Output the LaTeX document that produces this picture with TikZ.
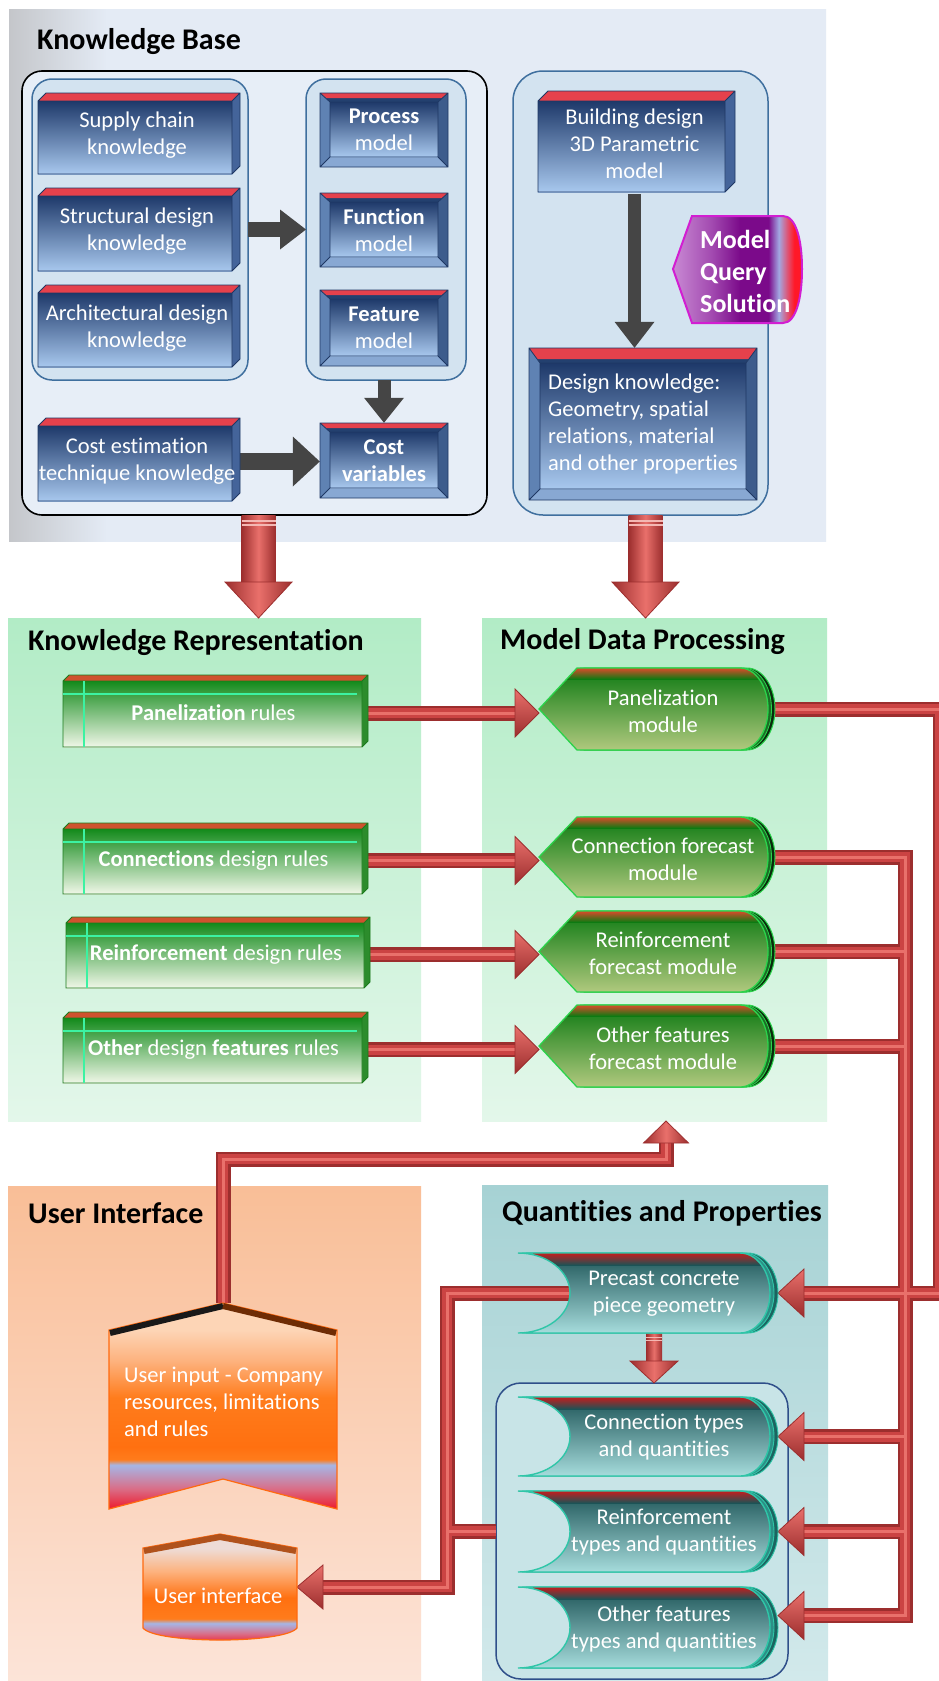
\documentclass[tikz,border=0pt]{standalone}
\usepackage{fontspec}
\setmainfont{Carlito}[Ligatures=NoCommon]
\usetikzlibrary{calc}
\pgfdeclarelayer{bg}
\pgfdeclarelayer{conn}
\pgfsetlayers{bg,conn,main}

\definecolor{kbGray}{HTML}{C4C6CA}
\definecolor{kbBlue}{HTML}{E4EBF5}
\definecolor{bbFill}{HTML}{E7EEF7}
\definecolor{grpFill}{HTML}{D3E3F0}
\definecolor{grpLine}{HTML}{3F6F9E}
\definecolor{grTop}{HTML}{B2ECC6}
\definecolor{grBot}{HTML}{E3F7EA}
\definecolor{uiTop}{HTML}{F9BE97}
\definecolor{uiBot}{HTML}{FCE4D8}
\definecolor{qpTop}{HTML}{A6D2D4}
\definecolor{qpBot}{HTML}{D2E9EB}
\definecolor{iqFill}{HTML}{C8E4E7}
\definecolor{iqLine}{HTML}{2F4F8A}
\definecolor{bFrontT}{HTML}{1E396A}
\definecolor{bFrontB}{HTML}{A8C8EE}
\definecolor{bSide}{HTML}{44649A}
\definecolor{bTop}{HTML}{E5414C}
\definecolor{bLine}{HTML}{1F3864}
\definecolor{bvTopC}{HTML}{23406F}
\definecolor{bvLeftC}{HTML}{5F82B3}
\definecolor{bvRightC}{HTML}{3D5C8C}
\definecolor{bvBotC}{HTML}{88A8D3}
\definecolor{gFrontT}{HTML}{138A1B}
\definecolor{gFrontB}{HTML}{F0F7E8}
\definecolor{gSide}{HTML}{2C8C2C}
\definecolor{gTop}{HTML}{CF522E}
\definecolor{gLine}{HTML}{1C7A1C}
\definecolor{gMint}{HTML}{3CF2A2}
\definecolor{modTop}{HTML}{0D7A12}
\definecolor{modBot}{HTML}{B0C97E}
\definecolor{modRed}{HTML}{DC4A2A}
\definecolor{modLine}{HTML}{2BD34B}
\definecolor{modShadow}{HTML}{092B0B}
\definecolor{modShadow2}{HTML}{1B6E25}
\definecolor{stTop}{HTML}{1C5356}
\definecolor{stBot}{HTML}{A6DCDC}
\definecolor{stRed}{HTML}{C51D1D}
\definecolor{stLine}{HTML}{2FC6A8}
\definecolor{stShadow}{HTML}{1B6460}
\definecolor{stShadow2}{HTML}{2C8F86}
\definecolor{redD}{HTML}{9C2E2E}
\definecolor{redM}{HTML}{CB4343}
\definecolor{redL}{HTML}{E9706B}
\definecolor{redS}{HTML}{F4B8B4}
\definecolor{gArrow}{HTML}{454545}
\definecolor{mqL}{HTML}{C98AD4}
\definecolor{mqM}{HTML}{A24AB0}
\definecolor{mqD}{HTML}{7B0A8A}
\definecolor{mqB}{HTML}{A2A8E2}
\definecolor{mqP}{HTML}{E05070}
\definecolor{mqR}{HTML}{FF1828}
\definecolor{mqLine}{HTML}{D21ED2}
\definecolor{oPeach}{HTML}{FDD5B6}
\definecolor{oLight}{HTML}{FDB27E}
\definecolor{oMid}{HTML}{FF7C1C}
\definecolor{oDeep}{HTML}{FF7010}
\definecolor{oBlue}{HTML}{A6B6E6}
\definecolor{oPink}{HTML}{D96E88}
\definecolor{oRed}{HTML}{EE1A2C}
\definecolor{oLine}{HTML}{FF6A10}
\definecolor{oBrown}{HTML}{6E2C05}
\definecolor{oBrown2}{HTML}{B0521C}
\definecolor{ufTop}{HTML}{EEDCD6}

\pgfdeclarehorizontalshading{kbshade}{100bp}{color(0bp)=(kbGray); color(25bp)=(kbGray); color(31bp)=(kbBlue); color(100bp)=(kbBlue)}
\pgfdeclarehorizontalshading{mqsshade}{100bp}{color(0bp)=(mqL); color(25bp)=(mqL); color(40bp)=(mqM); color(51bp)=(mqD); color(62bp)=(mqD); color(66bp)=(mqB); color(69.5bp)=(mqP); color(72bp)=(mqR); color(100bp)=(mqR)}
\pgfdeclareverticalshading{uinshade}{100bp}{color(0bp)=(oRed); color(25bp)=(oRed); color(30bp)=(oPink); color(35.7bp)=(oBlue); color(37bp)=(oMid); color(40bp)=(oDeep); color(52bp)=(oMid); color(61bp)=(oLight); color(68.5bp)=(oPeach); color(100bp)=(oPeach)}
\pgfdeclareverticalshading{ufshade}{100bp}{color(0bp)=(oRed); color(25bp)=(oRed); color(29.7bp)=(oPink); color(34.4bp)=(oBlue); color(36.5bp)=(oMid); color(46bp)=(oDeep); color(58bp)=(oLight); color(68.4bp)=(ufTop); color(100bp)=(ufTop)}

% rectangle node from corners
\newcommand\mkrect[6]{\node[#6, minimum width={(#4-#2)*1pt}, minimum height={(#5-#3)*1pt}] (#1) at ({(#2+#4)/2},{(#3+#5)/2}) {};}

% 3D cube box: [style]{name}{x1}{y1}{x2}{y2}{depth}{text}
\newcommand\cubebox[8][blue]{%
  \fill[#1 top] ({#3},{#4+#7}) -- ({#3+#7},{#4}) -- ({#5},{#4}) -- ({#5-#7},{#4+#7}) -- cycle;
  \fill[#1 side] ({#5-#7},{#4+#7}) -- ({#5},{#4}) -- ({#5},{#6-#7}) -- ({#5-#7},{#6}) -- cycle;
  \shade[#1 front] ({#3},{#4+#7}) rectangle ({#5-#7},{#6});
  \draw[#1 line] ({#3},{#4+#7}) -- ({#3+#7},{#4}) -- ({#5},{#4}) -- ({#5},{#6-#7}) -- ({#5-#7},{#6}) -- ({#3},{#6}) -- cycle
     ({#3},{#4+#7}) -- ({#5-#7},{#4+#7}) -- ({#5},{#4}) ({#5-#7},{#4+#7}) -- ({#5-#7},{#6});
  \node[boxtext, minimum width={(#5-#3)*1pt}, minimum height={(#6-#4)*1pt}] (#2) at ({(#3+#5)/2-2},{(#4+#6)/2+2}) {#8};
}

% bevel box: {name}{x1}{y1}{x2}{y2}{inset}{topinset}{redstrip}{text}
\newcommand\bevelbox[9]{%
  \fill[bvTopC] ({#2},{#3}) -- ({#4},{#3}) -- ({#4-#6},{#3+#7}) -- ({#2+#6},{#3+#7}) -- cycle;
  \fill[bTop] ({#2},{#3}) -- ({#4},{#3}) -- ({#4-#8*#6/#7},{#3+#8}) -- ({#2+#8*#6/#7},{#3+#8}) -- cycle;
  \fill[bvLeftC] ({#2},{#3}) -- ({#2+#6},{#3+#7}) -- ({#2+#6},{#5-#6}) -- ({#2},{#5}) -- cycle;
  \fill[bvRightC] ({#4},{#3}) -- ({#4-#6},{#3+#7}) -- ({#4-#6},{#5-#6}) -- ({#4},{#5}) -- cycle;
  \fill[bvBotC] ({#2},{#5}) -- ({#2+#6},{#5-#6}) -- ({#4-#6},{#5-#6}) -- ({#4},{#5}) -- cycle;
  \shade[top color=bFrontT, bottom color=bFrontB] ({#2+#6},{#3+#7}) rectangle ({#4-#6},{#5-#6});
  \draw[bLine, line width=0.8pt] ({#2},{#3}) rectangle ({#4},{#5}) ({#2+#6},{#3+#7}) rectangle ({#4-#6},{#5-#6})
     ({#2},{#3}) -- ({#2+#6},{#3+#7}) ({#4},{#3}) -- ({#4-#6},{#3+#7}) ({#2},{#5}) -- ({#2+#6},{#5-#6}) ({#4},{#5}) -- ({#4-#6},{#5-#6});
  \node[boxtext, minimum width={(#4-#2)*1pt}, minimum height={(#5-#3)*1pt}] (#1) at ({(#2+#4)/2},{(#3+#5)/2}) {#9};
}

\newcommand\rulelines[4]{\draw[gMint, line width=1.3pt] ({#1+21},{#2+6}) -- ({#1+21},{#4}) ({#1},{#2+19}) -- ({#3-11},{#2+19});}

% display shape path: x1 y1 x2 y2
\newcommand\modpath[4]{({#1},{(#2+#4)/2}) -- ({#1+38},{#2}) -- ({#3-28},{#2}) .. controls ({#3-12.5},{#2}) and ({#3},{(#2+#4)/2-0.276*(#4-#2)}) .. ({#3},{(#2+#4)/2}) .. controls ({#3},{(#2+#4)/2+0.276*(#4-#2)}) and ({#3-12.5},{#4}) .. ({#3-28},{#4}) -- ({#1+38},{#4}) -- cycle}

\newcommand\modbox[6]{%
  \begin{scope}[xshift=7pt]\path[fill=modShadow, draw=modLine, line width=1pt] \modpath{#2}{#3}{#4-7}{#5};\end{scope}
  \begin{scope}[xshift=3.5pt]\path[fill=modShadow2, draw=modLine, line width=0.8pt] \modpath{#2}{#3}{#4-7}{#5};\end{scope}
  \path[top color=modTop, bottom color=modBot] \modpath{#2}{#3}{#4-7}{#5};
  \begin{scope}\clip \modpath{#2}{#3}{#4-7}{#5};
    \path[top color=modRed, bottom color=modTop] ({#2},{#3}) rectangle ({#4},{#3+11});
  \end{scope}
  \path[draw=modLine, line width=1.3pt] \modpath{#2}{#3}{#4-7}{#5};
  \node[panel, minimum width={(#4-#2)*1pt}, minimum height={(#5-#3)*1pt}] (#1) at ({(#2+#4)/2},{(#3+#5)/2}) {};
  \node[boxtext] (#1t) at ({(#2+#4)/2+6},{(#3+#5)/2+2}) {#6};
}

% stored-data shape path: x1 y1 x2 y2
\newcommand\stpath[4]{({#1},{#2}) -- ({#3-30},{#2}) .. controls ({#3-13.4},{#2}) and ({#3},{(#2+#4)/2-0.276*(#4-#2)}) .. ({#3},{(#2+#4)/2}) .. controls ({#3},{(#2+#4)/2+0.276*(#4-#2)}) and ({#3-13.4},{#4}) .. ({#3-30},{#4}) -- ({#1},{#4}) .. controls ({#1+28.7},{#4}) and ({#1+52},{(#2+#4)/2+0.276*(#4-#2)}) .. ({#1+52},{(#2+#4)/2}) .. controls ({#1+52},{(#2+#4)/2-0.276*(#4-#2)}) and ({#1+28.7},{#2}) .. cycle}

\newcommand\stbox[6]{%
  \begin{scope}[xshift=8pt]\path[fill=stShadow, draw=stLine, line width=0.9pt] \stpath{#2}{#3}{#4-8}{#5};\end{scope}
  \begin{scope}[xshift=4pt]\path[fill=stShadow2, draw=stLine, line width=0.9pt] \stpath{#2}{#3}{#4-8}{#5};\end{scope}
  \path[top color=stTop, bottom color=stBot] \stpath{#2}{#3}{#4-8}{#5};
  \begin{scope}\clip \stpath{#2}{#3}{#4-8}{#5};
    \path[top color=stRed, bottom color=stTop] ({#2},{#3}) rectangle ({#4},{#3+12});
  \end{scope}
  \path[draw=stLine, line width=1.4pt] \stpath{#2}{#3}{#4-8}{#5};
  \node[panel, minimum width={(#4-#2)*1pt}, minimum height={(#5-#3)*1pt}] (#1) at ({(#2+#4)/2},{(#3+#5)/2}) {};
  \node[boxtext] (#1t) at ({(#2+#4)/2+16},{(#3+#5)/2+1}) {#6};
}

\begin{document}
\begin{tikzpicture}[x=1pt,y=-1pt,
  title/.style={font=\fontsize{30}{34}\selectfont\bfseries, anchor=west, inner sep=0pt},
  boxtext/.style={font=\fontsize{22.5}{27}\selectfont, text=white, align=center, inner sep=0pt},
  panel/.style={inner sep=0pt, outer sep=0pt, rectangle},
  grp/.style={panel, rounded corners=20pt, draw=grpLine, line width=1.5pt, fill=grpFill},
  blue top/.style={fill=bTop},
  blue side/.style={fill=bSide},
  blue front/.style={top color=bFrontT, bottom color=bFrontB},
  blue line/.style={draw=bLine, line width=0.8pt},
  green top/.style={fill=gTop},
  green side/.style={fill=gSide},
  green front/.style={top color=gFrontT, bottom color=gFrontB},
  green line/.style={draw=gLine, line width=0.9pt},
  rd/.style={draw=redD, line width=15pt},
  rm/.style={draw=redM, line width=10pt},
  rh/.style={draw=redL, line width=3pt},
  rhead/.style={top color=redL, bottom color=redD, draw=redD, line width=0.8pt},
  rheadv/.style={left color=redD, right color=redD, middle color=redL, draw=redD, line width=0.8pt},
  bigshaft/.style={left color=redD, right color=redD, middle color=redL},
  gshaft/.style={draw=gArrow, line width=15pt},
  ghead/.style={fill=gArrow}]
\useasboundingbox (0,0) rectangle (938,1681);

\begin{pgfonlayer}{bg}
\fill[white] (0,0) rectangle (938,1681);
\mkrect{kb}{9}{9}{826}{541}{panel, shade, shading=kbshade}
\node[title] (kbt) at (37,42) {Knowledge Base};
\mkrect{blackbox}{22}{71}{487}{515}{panel, rounded corners=20pt, draw=black, line width=1.6pt, fill=bbFill}
\mkrect{lgroup}{32}{79}{248}{380}{grp}
\mkrect{rgroup}{306}{79}{466}{380}{grp}
\mkrect{bgroup}{513}{71}{768}{515}{grp, rounded corners=30pt}
\mkrect{kr}{8}{618}{421}{1121}{panel, top color=grTop, bottom color=grBot}
\node[title] (krt) at (28,643) {Knowledge Representation};
\mkrect{mdp}{482}{618}{827}{1121}{panel, top color=grTop, bottom color=grBot}
\node[title] (mdpt) at (500,642) {Model Data Processing};
\mkrect{ui}{8}{1186}{421}{1681}{panel, top color=uiTop, bottom color=uiBot}
\node[title] (uit) at (28,1213) {User Interface};
\mkrect{qp}{482}{1185}{828}{1681}{panel, top color=qpTop, bottom color=qpBot}
\node[title] (qpt) at (502,1213) {Quantities and Properties};
\mkrect{innerq}{496}{1383}{788}{1679}{panel, rounded corners=25pt, draw=iqLine, line width=1.5pt, fill=iqFill}
\end{pgfonlayer}

% ---------- Knowledge base boxes
\cubebox{supply}{38}{93}{240}{174}{8}{Supply chain\\knowledge}
\cubebox{struct}{38}{188}{240}{271}{8}{Structural design\\knowledge}
\cubebox{arch}{38}{285}{240}{367}{8}{Architectural design\\knowledge}
\cubebox{costest}{38}{418}{240}{501}{8}{Cost estimation\\technique knowledge}
\bevelbox{process}{320}{93}{448}{167}{10}{9}{5}{\textbf{Process}\\model}
\bevelbox{function}{320}{193}{448}{267}{10}{9}{5}{\textbf{Function}\\model}
\bevelbox{feature}{320}{290}{448}{366}{10}{9}{5}{\textbf{Feature}\\model}
\bevelbox{costvar}{320}{423}{448}{498}{10}{9}{5}{\textbf{Cost}\\\textbf{variables}}
\cubebox{building}{538}{91}{735}{192}{10}{Building design\\3D Parametric\\model}
\bevelbox{designk}{529}{348}{757}{500}{11}{15}{11}{}
\node[boxtext, align=left, anchor=west] (designkt) at (548,424) {Design knowledge:\\Geometry, spatial\\relations, material\\and other properties};

% Model query solution
\path[shade, shading=mqsshade, draw=mqLine, line width=2pt] (673,269) -- (692,216) -- (783,216) .. controls (796,216) and (802,240) .. (802,269) .. controls (802,298) and (796,323) .. (783,323) -- (692,323) -- cycle;
\node[panel, minimum width=129pt, minimum height=107pt] (mqs) at (737.5,269.5) {};
\node[font=\fontsize{26}{32}\selectfont\bfseries, text=white, align=left, anchor=west, inner sep=0pt] (mqst) at (700,271) {Model\\Query\\Solution};

% ---------- Knowledge representation
\cubebox[green]{prules}{63}{675}{368}{747}{6}{\textbf{Panelization} rules}
\rulelines{63}{675}{368}{747}
\cubebox[green]{crules}{63}{823}{368}{894}{6}{\textbf{Connections} design rules}
\rulelines{63}{823}{368}{894}
\cubebox[green]{rrules}{66}{917}{370}{988}{6}{\textbf{Reinforcement} design rules}
\rulelines{66}{917}{370}{988}
\cubebox[green]{orules}{63}{1012}{368}{1083}{6}{\textbf{Other} design \textbf{features} rules}
\rulelines{63}{1012}{368}{1083}

% ---------- Model data processing
\modbox{pmod}{539}{668}{775}{750}{Panelization\\module}
\modbox{cmod}{539}{817}{775}{897}{Connection forecast\\module}
\modbox{rmod}{539}{911}{775}{992}{Reinforcement\\forecast module}
\modbox{omod}{539}{1005}{775}{1087}{Other features\\forecast module}

% ---------- Quantities and properties
\stbox{precast}{518}{1253}{778}{1333}{Precast concrete\\piece geometry}
\stbox{ctypes}{518}{1397}{778}{1476}{Connection types\\and quantities}
\stbox{rtypes}{518}{1491}{778}{1572}{Reinforcement\\types and quantities}
\stbox{otypes}{518}{1587}{778}{1668}{Other features\\types and quantities}

% ---------- User interface
\path[shade, shading=uinshade, draw=oLine, line width=1.2pt] (223,1303) -- (337,1330) -- (337,1509) -- (223,1479) -- (109,1509) -- (109,1330) -- cycle;
\draw[line width=6pt, black!90] (110,1333) -- (223,1306);
\draw[line width=6pt, oBrown] (223,1306) -- (336,1333);
\node[panel, minimum width=228pt, minimum height=206pt] (uinput) at (223,1406) {};
\node[boxtext, align=left, anchor=west] (uinputt) at (124,1402) {User input - Company\\resources, limitations\\and rules};

\path[shade, shading=ufshade, draw=oLine, line width=1.2pt] (220,1534) -- (297,1548) -- (297,1628) .. controls (284,1644) and (156,1644) .. (143,1628) -- (143,1548) -- cycle;
\draw[line width=6pt, oBrown2] (144,1551) -- (220,1537) -- (296,1551);
\node[panel, minimum width=154pt, minimum height=106pt] (uiface) at (220,1587) {};
\node[boxtext] (uifacet) at (218,1596) {User interface};

% ---------- connectors
\begin{pgfonlayer}{conn}
\coordinate (xr1) at (940,0);
\coordinate (xr2) at (905,0);
\coordinate (xl) at (447,0);
\coordinate (yup) at (0,1159);
\coordinate (mdpin) at ($(mdp.south)+(11.5,0)$);
\coordinate (otin) at ($(otypes.east)+(0,-12)$);

% gray arrows
\draw[gshaft] (lgroup.east) -- ($(rgroup.west)+(-26,0)$);
\fill[ghead] (rgroup.west) -- ++(-26,-20) -- ++(0,40) -- cycle;
\draw[gshaft, line width=13pt] (costvar.north |- rgroup.south) -- ($(costvar.north)+(0,-25)$);
\fill[ghead] (costvar.north) -- ++(-20,-25) -- ++(40,0) -- cycle;
\draw[gshaft, line width=17pt] (costest.east) -- ($(costest.east -| costvar.west)+(-27,0)$);
\fill[ghead] (costest.east -| costvar.west) -- ++(-27,-25) -- ++(0,50) -- cycle;
\draw[gshaft, line width=13pt] (building.south) -- ($(building.south |- designk.north)+(0,-26)$);
\fill[ghead] (building.south |- designk.north) -- ++(-20,-26) -- ++(40,0) -- cycle;

% big red arrows
\coordinate (r1s) at ($(blackbox.south)+(4,0)$);
\coordinate (r1t) at (r1s |- kr.north);
\coordinate (r2s) at ($(bgroup.south)+(5,0)$);
\coordinate (r2t) at (r2s |- mdp.north);
\shade[bigshaft] ($(r1s)+(-17,0)$) rectangle ($(r1t)+(17,-36)$);
\path[rheadv] (r1t) -- ++(-33.5,-36) -- ++(67,0) -- cycle;
\draw[redS, line width=1.3pt] ($(r1s)+(-17,6)$) -- ++(34,0) ($(r1s)+(-17,10)$) -- ++(34,0);
\shade[bigshaft] ($(r2s)+(-17,0)$) rectangle ($(r2t)+(17,-36)$);
\path[rheadv] (r2t) -- ++(-33.5,-36) -- ++(67,0) -- cycle;
\draw[redS, line width=1.3pt] ($(r2s)+(-17,6)$) -- ++(34,0) ($(r2s)+(-17,10)$) -- ++(34,0);

% small arrow precast -> group
\coordinate (p1s) at ($(precast.south)+(6,0)$);
\coordinate (p1t) at (p1s |- innerq.north);
\shade[bigshaft] ($(p1s)+(-8,0)$) rectangle ($(p1t)+(8,-22)$);
\path[rheadv] (p1t) -- ++(-24,-22) -- ++(48,0) -- cycle;
\draw[redS, line width=1pt] ($(p1s)+(-8,4)$) -- ++(16,0) ($(p1s)+(-8,7)$) -- ++(16,0);

% red tube networks
\def\netright{(pmod.center) -- (pmod.center -| xr1) -- (xr1 |- precast.east) -- ($(precast.east)+(26,0)$)
  (cmod.center) -- (cmod.center -| xr2) -- (xr2 |- otin) -- ($(otin)+(26,0)$)
  (rmod.center) -- (rmod.center -| xr2)
  (omod.center) -- (omod.center -| xr2)
  (xr2 |- ctypes.east) -- ($(ctypes.east)+(26,0)$)
  (xr2 |- rtypes.east) -- ($(rtypes.east)+(26,0)$)}
\def\netrules{(prules.east) -- ($(prules.east -| pmod.west)+(-24,0)$)
  (crules.east) -- ($(crules.east -| cmod.west)+(-24,0)$)
  (rrules.east) -- ($(rrules.east -| rmod.west)+(-24,0)$)
  (orules.east) -- ($(orules.east -| omod.west)+(-24,0)$)}
\def\netleft{(precast.center) -- (precast.center -| xl) -- (xl |- uiface.east) -- ($(uiface.east)+(26,0)$)
  (innerq.west) -- (innerq.west -| xl)}
\def\netuser{(uinput.north) -- (uinput.north |- yup) -- (yup -| mdpin) -- ($(mdpin)+(0,22)$)}
\draw[rd] \netright \netrules \netleft \netuser;
\draw[rm] \netright \netrules \netleft \netuser;
\draw[rh] \netright \netrules \netleft \netuser;

% heads
\path[rhead] (precast.east) -- ++(26,-24) -- ++(0,48) -- cycle;
\path[rhead] (ctypes.east) -- ++(26,-24) -- ++(0,48) -- cycle;
\path[rhead] (rtypes.east) -- ++(26,-24) -- ++(0,48) -- cycle;
\path[rhead] (otin) -- ++(26,-24) -- ++(0,48) -- cycle;
\path[rhead] (uiface.east) -- ++(26,-22) -- ++(0,44) -- cycle;
\path[rheadv] (mdpin) -- ++(-22.5,22) -- ++(45,0) -- cycle;
\path[rhead] (prules.east -| pmod.west) -- ++(-24,-24) -- ++(0,48) -- cycle;
\path[rhead] (crules.east -| cmod.west) -- ++(-24,-24) -- ++(0,48) -- cycle;
\path[rhead] (rrules.east -| rmod.west) -- ++(-24,-24) -- ++(0,48) -- cycle;
\path[rhead] (orules.east -| omod.west) -- ++(-24,-24) -- ++(0,48) -- cycle;
\end{pgfonlayer}
\end{tikzpicture}
\end{document}
